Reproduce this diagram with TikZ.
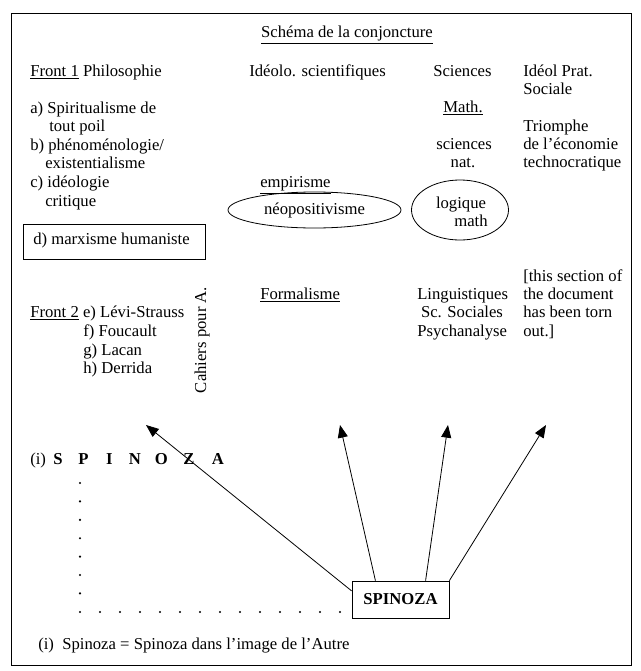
\documentclass[tikz,border=0pt]{standalone}
\usepackage{fontspec}
\setmainfont{Liberation Serif}
\usetikzlibrary{arrows.meta,shapes.geometric}
\begin{document}
\begin{tikzpicture}[x=0.75pt,y=-0.75pt,
  lbl/.style={inner sep=0pt, anchor=base west, font=\fontsize{12.5}{14}\selectfont},
  clbl/.style={inner sep=0pt, anchor=base, font=\fontsize{12.5}{14}\selectfont},
  arr/.style={-{Triangle[length=9.5pt,width=7.5pt]}, line width=0.6pt},
  thin/.style={line width=0.6pt},
  dotc/.style={fill, circle, inner sep=0pt, minimum size=1.8pt},
  ]
\useasboundingbox (0,0) rectangle (640,671);
\fill[white] (0,0) rectangle (640,671);
\draw[thin] (11,13) rectangle (631,665);

% title
\node[clbl] (title) at (347,37.5) {\underline{Schéma de la conjoncture}};

% row 1
\node[lbl] (front1) at (30,76.5) {\underline{Front 1} Philosophie};
\node[lbl] (ideolo) at (249,76.5) {Idéolo. scientifiques};
\node[lbl] (sciences) at (433,76.5) {Sciences};
\node[lbl] (ideolprat) at (523,76.5) {Idéol Prat.};
\node[lbl] (sociale) at (523,94.5) {Sociale};

% left column
\node[lbl] (a) at (30,113.5) {a) Spiritualisme de};
\node[lbl] (a2) at (49,131.5) {tout poil};
\node[lbl] (b) at (30,150.5) {b) phénoménologie/};
\node[lbl] (b2) at (45,168.5) {existentialisme};
\node[lbl] (c) at (30,187.5) {c) idéologie};
\node[lbl] (c2) at (45,206) {critique};
\node[draw, thin, inner sep=0pt, minimum width={182*0.75pt}, minimum height={35*0.75pt}] (dbox) at (114,241.5) {};
\node[lbl] (d) at (33,244.5) {d) marxisme humaniste};

% sciences column
\node[clbl] (math) at (463,112.5) {\underline{Math.}};
\node[lbl] (scnat) at (436,149.5) {sciences};
\node[clbl] (nat) at (463,167.5) {nat.};

% right column
\node[lbl] (triomphe) at (523,131.5) {Triomphe};
\node[lbl] (econ) at (523,149.5) {de l’économie};
\node[lbl] (techno) at (523,167.5) {technocratique};

% ideologies
\node[lbl] (empirisme) at (260,187.5) {\underline{empirisme}};
\node[draw, thin, ellipse, inner sep=0pt, minimum width={173*0.75pt}, minimum height={36*0.75pt}, font=\fontsize{12.5}{14}\selectfont] (neo) at (314.5,210) {néopositivisme};
\node[draw, thin, ellipse, inner sep=0pt, minimum width={97*0.75pt}, minimum height={60*0.75pt}] (logell) at (460,210) {};
\node[clbl] (logique) at (461,208) {logique};
\node[clbl] (lmath) at (471,226) {math};

% front 2 row
\node[lbl] (formalisme) at (260,299.5) {\underline{Formalisme}};
\node[lbl] (ling) at (417,299.5) {Linguistiques};
\node[clbl] (scsoc) at (462,317.5) {Sc. Sociales};
\node[lbl] (psy) at (417,336.5) {Psychanalyse};
\node[lbl] (torn1) at (523,281.5) {[this section of};
\node[lbl] (torn2) at (523,299.5) {the document};
\node[lbl] (torn3) at (523,317.5) {has been torn};
\node[lbl] (torn4) at (523,336.5) {out.]};

\node[lbl] (front2) at (30,317.5) {\underline{Front 2} e) Lévi-Strauss};
\node[lbl] (f) at (83,336) {f) Foucault};
\node[lbl] (g) at (83,355) {g) Lacan};
\node[lbl] (h) at (83,373.5) {h) Derrida};
\node[inner sep=0pt, rotate=90, font=\fontsize{12.5}{14}\selectfont] (cahiers) at (202,340) {Cahiers pour A.};

% SPINOZA line
\node[lbl] (spzline) at (30,464) {(i)\makebox[18pt][c]{\bfseries S}\makebox[20.25pt][c]{\bfseries P}\makebox[18.75pt][c]{\bfseries I}\makebox[19.5pt][c]{\bfseries N}\makebox[20.25pt][c]{\bfseries O}\makebox[21pt][c]{\bfseries Z}\makebox[22.5pt][c]{\bfseries A}};

% dotted lines
\foreach \k in {0,...,6} \node[dotc] at (80,{483+18.4*\k}) {};
\foreach \k in {0,...,13} \node[dotc] at ({80+20*\k},612) {};

% SPINOZA box
\node[draw, thin, inner sep=0pt, minimum width={97*0.75pt}, minimum height={37*0.75pt}, font=\fontsize{12.5}{14}\selectfont\bfseries] (spz) at (400.5,599.5) {SPINOZA};

% arrow tips
\coordinate (t1) at (146,425);
\coordinate (t2) at (340,425);
\coordinate (t3) at (448,425);
\coordinate (t4) at (546,425);
\draw[arr] (spz.170) -- (t1);
\draw[arr] (spz.143) -- (t2);
\draw[arr] (spz.37) -- (t3);
\draw[arr] (spz.north east) -- (t4);

% footnote
\node[lbl] (note) at (38,649.5) {(i)\ \ Spinoza = Spinoza dans l’image de l’Autre};
\end{tikzpicture}
\end{document}
